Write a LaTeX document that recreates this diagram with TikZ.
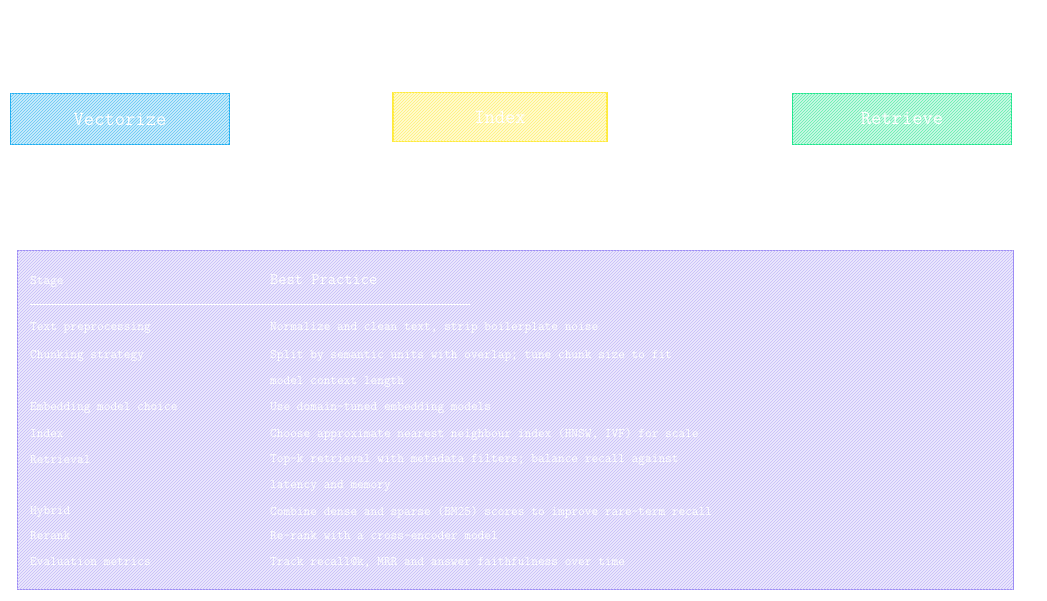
\documentclass[tikz,border=0pt]{standalone}
\usetikzlibrary{patterns}
\begin{document}
\begin{tikzpicture}[x=1pt,y=-1pt,
  box/.style={draw=#1, line width=1.2pt, fill=#1!22, postaction={pattern=north east lines, pattern color=#1!70}, minimum width=219pt, minimum height=51pt, text=white, font=\ttfamily\fontsize{20}{24}\selectfont},
  txt/.style={text=white, anchor=west, font=\ttfamily\fontsize{13}{15}\selectfont, inner sep=0pt}]
\useasboundingbox (0,0) rectangle (1047,600);
\definecolor{cb}{HTML}{1EAEF0}
\definecolor{cy}{HTML}{FFEB3B}
\definecolor{cg}{HTML}{1EE68C}
\definecolor{cp}{HTML}{9C8CF5}
\node[box=cb] (v) at (120,119) {Vectorize};
\node[box=cy, minimum width=214pt, minimum height=49pt] (i) at (500,117) {Index};
\node[box=cg] (s) at (902,119) {Retrieve};
\node[draw=cp, line width=0.8pt, fill=cp!18, postaction={pattern=north east lines, pattern color=cp!60}, minimum width=996pt, minimum height=339pt] (t) at (515,420) {};
\draw[white, line width=0.8pt] (30,304) -- (470,304);
\node[txt] (h1) at (30,282) {Stage};
\node[txt, font=\ttfamily\fontsize{16}{18}\selectfont] (h2) at (270,280) {Best Practice};
\node[txt] (a1) at (30,328) {Text preprocessing};
\node[txt] (a2) at (30,356) {Chunking strategy};
\node[txt] (a3) at (30,408) {Embedding model choice};
\node[txt] (a4) at (30,434) {Index};
\node[txt] (a5) at (30,460) {Retrieval};
\node[txt] (a6) at (30,512) {Hybrid};
\node[txt] (a7) at (30,536) {Rerank};
\node[txt] (a8) at (30,562) {Evaluation metrics};
\node[txt] (b1) at (270,328) {Normalize and clean text, strip boilerplate noise};
\node[txt] (b2) at (270,356) {Split by semantic units with overlap; tune chunk size to fit};
\node[txt] (b3) at (270,382) {model context length};
\node[txt] (b4) at (270,408) {Use domain-tuned embedding models};
\node[txt] (b5) at (270,434) {Choose approximate nearest neighbour index (HNSW, IVF) for scale};
\node[txt] (b6) at (270,460) {Top-k retrieval with metadata filters; balance recall against};
\node[txt] (b7) at (270,486) {latency and memory};
\node[txt] (b8) at (270,512) {Combine dense and sparse (BM25) scores to improve rare-term recall};
\node[txt] (b9) at (270,536) {Re-rank with a cross-encoder model};
\node[txt] (b10) at (270,562) {Track recall@k, MRR and answer faithfulness over time};
\end{tikzpicture}
\end{document}
